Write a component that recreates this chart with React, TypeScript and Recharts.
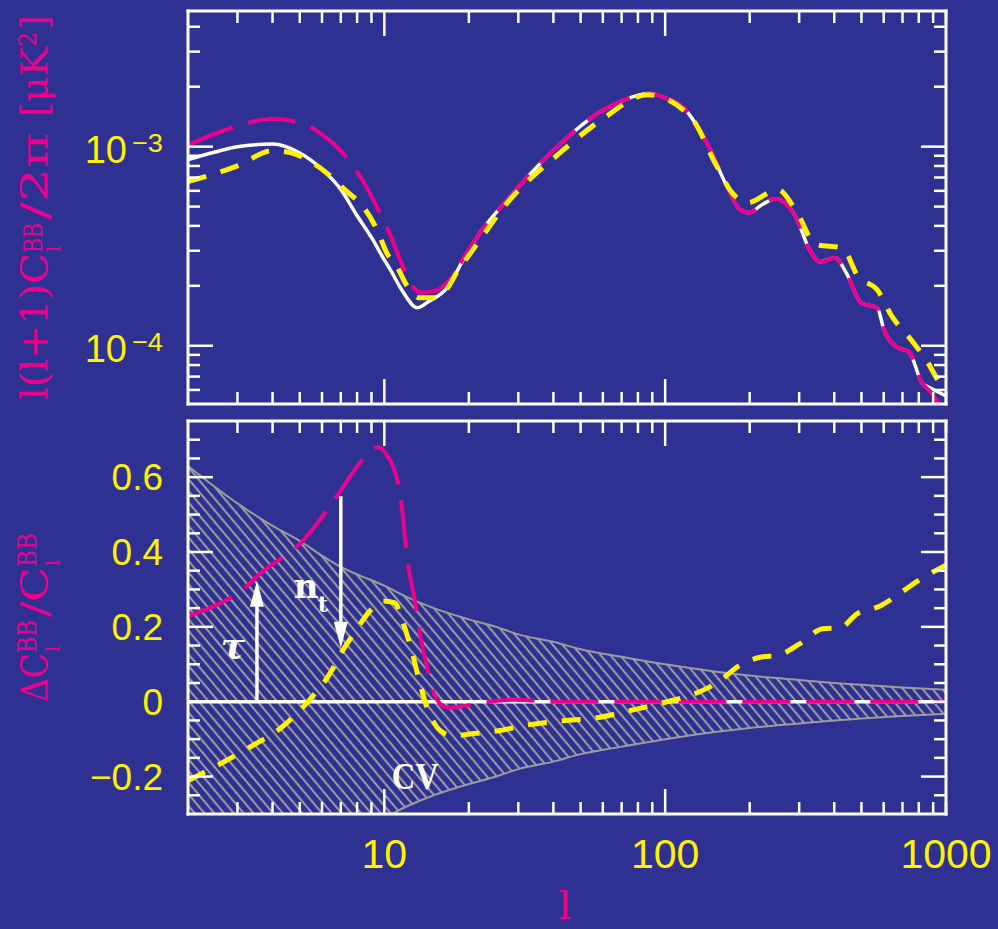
import * as React from "react"
import { ComposedChart, Line, Area, XAxis, YAxis, ReferenceLine, ReferenceDot } from "recharts"

const BG = "#2e3192"
const YELLOW = "#fff200"
const MAGENTA = "#ec008c"
const WHITE = "#ffffff"
const HATCH = "#9c9c9c"
const NUM_FONT = "'Liberation Sans', Arial, sans-serif"
const TITLE_FONT = "'DejaVu Serif', serif"

// multipole axis, shared by both panels
const xDomain: [number, number] = [2, 1000]
const xTicks = [3, 4, 5, 6, 7, 8, 9, 10, 20, 30, 40, 50, 60, 70, 80, 90, 100, 200, 300, 400, 500, 600, 700, 800, 900, 1000]
const xLabels = [10, 100, 1000]

// upper panel: l(l+1)C_l^BB / 2pi
const powerDomain: [number, number] = [5.1e-5, 4.8e-3]
const powerTicks = [6e-5, 7e-5, 8e-5, 9e-5, 1e-4, 2e-4, 3e-4, 4e-4, 5e-4, 6e-4, 7e-4, 8e-4, 9e-4, 1e-3, 2e-3, 3e-3, 4e-3]
const powerLabels = [1e-4, 1e-3]

const fiducialEll = [2, 2.5, 3, 4, 5, 6, 7, 8, 9, 10, 10.5, 11.7, 13.1, 14.3, 16.7, 19.7, 21.9, 27.4, 41, 58, 69, 87, 100, 115, 139, 168, 185, 199, 221, 248, 267, 295, 323, 356, 403, 441, 499, 569, 602, 664, 740, 822, 877, 1000]
const fiducialCl = [8.6e-4, 9.4e-4, 1.0e-3, 1.03e-3, 9.3e-4, 7.7e-4, 6.1e-4, 4.5e-4, 3.5e-4, 2.7e-4, 2.41e-4, 1.85e-4, 1.55e-4, 1.66e-4, 1.95e-4, 2.92e-4, 3.68e-4, 5.4e-4, 9.9e-4, 1.48e-3, 1.68e-3, 1.85e-3, 1.76e-3, 1.59e-3, 1.08e-3, 6.1e-4, 4.82e-4, 4.66e-4, 5.11e-4, 5.48e-4, 5.23e-4, 4.3e-4, 3.14e-4, 2.64e-4, 2.77e-4, 2.33e-4, 1.64e-4, 1.55e-4, 1.2e-4, 9.9e-5, 9.3e-5, 6.5e-5, 6.15e-5, 5.6e-5]

const tauEll = [2, 2.9, 4, 5, 5.9, 7.1, 8.2, 9.4, 10.5, 11.4, 12.3, 13.6, 15.4, 17.1, 19.7, 21.9, 27.4, 41, 58, 69, 87, 100, 115, 139, 168, 185, 199, 221, 248, 267, 295, 323, 356, 403, 441, 499, 569, 602, 664, 740, 822, 877, 938, 1000]
const tauCl = [1.02e-3, 1.25e-3, 1.38e-3, 1.32e-3, 1.17e-3, 9.3e-4, 7.1e-4, 5.0e-4, 3.6e-4, 2.7e-4, 2.1e-4, 1.85e-4, 1.9e-4, 2.15e-4, 2.95e-4, 3.68e-4, 5.4e-4, 9.9e-4, 1.48e-3, 1.68e-3, 1.85e-3, 1.76e-3, 1.59e-3, 1.08e-3, 6.1e-4, 4.82e-4, 4.66e-4, 5.11e-4, 5.48e-4, 5.23e-4, 4.3e-4, 3.14e-4, 2.64e-4, 2.77e-4, 2.33e-4, 1.64e-4, 1.55e-4, 1.2e-4, 9.9e-5, 9.3e-5, 6.5e-5, 5.9e-5, 5.2e-5, 4.5e-5]

const tiltEll = [2, 3, 4, 4.62, 5.9, 7.37, 8.4, 9.42, 10.2, 11.1, 12.1, 13.4, 15.4, 18.6, 21.9, 26.5, 42.3, 59.6, 86.9, 122.7, 153, 173, 196, 252, 295, 344, 427, 487, 569, 643, 752, 849, 968, 1000]
const tiltCl = [6.67e-4, 8.0e-4, 9.55e-4, 9.33e-4, 7.84e-4, 5.94e-4, 5.0e-4, 3.83e-4, 2.93e-4, 2.49e-4, 1.98e-4, 1.74e-4, 1.74e-4, 2.47e-4, 3.4e-4, 4.93e-4, 9.33e-4, 1.37e-3, 1.82e-3, 1.42e-3, 7.94e-4, 5.87e-4, 5.23e-4, 6.08e-4, 4.66e-4, 3.22e-4, 3.1e-4, 2.22e-4, 1.91e-4, 1.4e-4, 1.07e-4, 8.5e-5, 6.2e-5, 5.8e-5]

// lower panel: fractional difference and cosmic variance
const ratioDomain: [number, number] = [-0.3, 0.75]
const ratioTicks = [-0.25, -0.2, -0.15, -0.1, -0.05, 0, 0.05, 0.1, 0.15, 0.2, 0.25, 0.3, 0.35, 0.4, 0.45, 0.5, 0.55, 0.6, 0.65, 0.7]
const ratioLabels = [-0.2, 0, 0.2, 0.4, 0.6]

const cvEll = [2, 3, 4, 5, 6, 7, 8, 10, 12, 15, 20, 25, 30, 40, 50, 70, 100, 150, 200, 300, 400, 500, 700, 1000]
const cvHalfWidth = [0.63, 0.53, 0.47, 0.43, 0.39, 0.36, 0.34, 0.31, 0.28, 0.25, 0.22, 0.2, 0.18, 0.16, 0.14, 0.12, 0.1, 0.081, 0.07, 0.058, 0.05, 0.045, 0.038, 0.032]

const zeroEll = [2, 1000]
const zeroRatio = [0, 0]

const tauRatioEll = [2, 3.24, 3.6, 4.4, 5.0, 6.4, 6.9, 7.7, 8.8, 9.5, 10.3, 11.1, 11.5, 12.1, 12.8, 13.6, 14.3, 14.9, 15.8, 16.9, 19.6, 25.8, 28.8, 40, 1000]
const tauRatio = [0.229, 0.309, 0.341, 0.389, 0.421, 0.523, 0.557, 0.611, 0.664, 0.68, 0.655, 0.595, 0.53, 0.376, 0.277, 0.155, 0.083, 0.029, -0.005, -0.016, -0.011, 0.003, 0.005, 0, 0]

const tiltRatioEll = [2, 2.53, 3.4, 4.3, 5.3, 6.4, 7.1, 8.0, 8.9, 9.9, 10.9, 11.7, 12.6, 13.4, 14.2, 14.9, 15.8, 17.6, 20.8, 25.8, 31.2, 43.3, 57, 74.6, 98, 130, 157, 183, 223, 250, 302, 365, 419, 482, 583, 705, 794, 1000]
const tiltRatio = [-0.211, -0.171, -0.117, -0.069, -0.003, 0.075, 0.136, 0.195, 0.243, 0.269, 0.264, 0.208, 0.128, 0.048, -0.016, -0.051, -0.077, -0.091, -0.085, -0.077, -0.064, -0.051, -0.043, -0.024, -0.003, 0.024, 0.056, 0.096, 0.12, 0.123, 0.155, 0.195, 0.197, 0.235, 0.256, 0.296, 0.323, 0.365]

// arrows marking the tau and n_t shifts: [ell, from, to]
const tauArrow = [3.52, 0, 0.323]
const ntArrow = [7.0, 0.549, 0.144]
const cvLabelAt = [12.9, -0.232]

const toPoints = (ell: number[], val: number[]) => ell.map((l, i) => ({ l, v: val[i] }))
const cvRows = cvEll.map((l, i) => ({ l, cv: [-cvHalfWidth[i], cvHalfWidth[i]] }))

const near = (list: number[], v: number) => list.some((t) => Math.abs(t - v) < 1e-9 * Math.max(1, Math.abs(t)) + 1e-9)
const isDecade = (v: number) => Math.abs(Math.log10(v) - Math.round(Math.log10(v))) < 1e-6

const frame = { stroke: WHITE, strokeWidth: 3, strokeLinecap: "square" as const }

type Side = "top" | "bottom" | "left" | "right"

const makeTick =
  (side: Side, isMajor: (v: number) => boolean, label?: (v: number, x: number, y: number) => React.ReactNode) =>
  (props: any) => {
    const { x, y, payload } = props
    const v = payload.value as number
    const len = isMajor(v) ? 25 : 12
    let x2 = x
    let y2 = y
    if (side === "bottom") y2 = y - len
    if (side === "top") y2 = y + len
    if (side === "left") x2 = x + len
    if (side === "right") x2 = x - len
    return (
      <g>
        <line x1={x} y1={y} x2={x2} y2={y2} stroke={WHITE} strokeWidth={2.5} />
        {label ? label(v, x, y) : null}
      </g>
    )
  }

const xMajor = (v: number) => v === 10 || v === 100
const powerMajor = (v: number) => isDecade(v)
const ratioMajor = (v: number) => near(ratioLabels, v)

const xLabel = (v: number, x: number, y: number) =>
  xLabels.includes(v) ? (
    <text x={x} y={y + 54} textAnchor="middle" fill={YELLOW} fontSize={41} fontFamily={NUM_FONT}>
      {v}
    </text>
  ) : null

const powerLabel = (v: number, x: number, y: number) => {
  if (!near(powerLabels, v)) return null
  const exp = Math.round(Math.log10(v))
  return (
    <g fill={YELLOW} fontFamily={NUM_FONT}>
      <text x={x - 61} y={y + 16} textAnchor="end" fontSize={38}>10</text>
      <text x={x - 25} y={y + 5} textAnchor="end" fontSize={26} textLength={31} lengthAdjust="spacingAndGlyphs">{"\u2212" + Math.abs(exp)}</text>
    </g>
  )
}

const ratioLabel = (v: number, x: number, y: number) => {
  if (!near(ratioLabels, v)) return null
  const txt = Math.abs(v) < 1e-9 ? "0" : (v < 0 ? "\u2212" : "") + Math.abs(v).toFixed(1)
  return (
    <text x={x - 25} y={y + 13} textAnchor="end" fill={YELLOW} fontSize={37} fontFamily={NUM_FONT}>
      {txt}
    </text>
  )
}

const arrowShape = (label: (x1: number, y1: number, x2: number, y2: number) => React.ReactNode) => (props: any) => {
  const { x1, y1, x2, y2 } = props
  const dir = y2 > y1 ? 1 : -1
  const headLen = 26
  const headHalf = 7
  const baseY = y2 - dir * headLen
  return (
    <g>
      <line x1={x1} y1={y1} x2={x2} y2={baseY + dir * 4} stroke={WHITE} strokeWidth={3.5} />
      <polygon points={`${x2},${y2} ${x2 - headHalf},${baseY} ${x2 + headHalf},${baseY}`} fill={WHITE} />
      {label(x1, y1, x2, y2)}
    </g>
  )
}

const tauLabel = (x1: number, y1: number) => (
  <text x={x1 - 24} y={y1 - 44} textAnchor="middle" fill={WHITE} fontSize={36} fontWeight="bold" fontStyle="italic" fontFamily={TITLE_FONT}>
    τ
  </text>
)

const ntLabel = (x1: number, y1: number) => (
  <g fill={WHITE} fontWeight="bold" fontFamily={TITLE_FONT}>
    <text x={x1 - 47} y={y1 + 102} fontSize={34}>n</text>
    <text x={x1 - 23} y={y1 + 116} fontSize={22}>t</text>
  </g>
)

const cvShape = (props: any) => (
  <text x={props.cx} y={props.cy} textAnchor="middle" fill={WHITE} fontSize={38} fontWeight="bold" fontFamily="'Liberation Serif', serif" textLength={47} lengthAdjust="spacingAndGlyphs">
    CV
  </text>
)

const lineProps = { type: "monotone" as const, dot: false, activeDot: false, isAnimationActive: false, dataKey: "v" }

function xAxes(labelled: boolean) {
  return [
    <XAxis key="xb" xAxisId="b" type="number" dataKey="l" scale="log" domain={xDomain} allowDataOverflow ticks={xTicks} interval={0} height={1} tickSize={0} tickMargin={0} tickLine={false} axisLine={frame} tick={makeTick("bottom", xMajor, labelled ? xLabel : undefined)} />,
    <XAxis key="xt" xAxisId="t" orientation="top" type="number" dataKey="l" scale="log" domain={xDomain} allowDataOverflow ticks={xTicks} interval={0} height={1} tickSize={0} tickMargin={0} tickLine={false} axisLine={frame} tick={makeTick("top", xMajor)} />,
  ]
}

function PowerPanel() {
  return (
    <ComposedChart width={998} height={412} margin={{ top: 10, right: 51, bottom: 7, left: 187 }}>
      {xAxes(false)}
      <YAxis yAxisId="l" type="number" scale="log" domain={powerDomain} allowDataOverflow ticks={powerTicks} interval={0} width={1} tickSize={0} tickMargin={0} tickLine={false} axisLine={frame} tick={makeTick("left", powerMajor, powerLabel)} />
      <YAxis yAxisId="r" orientation="right" type="number" scale="log" domain={powerDomain} allowDataOverflow ticks={powerTicks} interval={0} width={1} tickSize={0} tickMargin={0} tickLine={false} axisLine={frame} tick={makeTick("right", powerMajor)} />
      <Line {...lineProps} xAxisId="b" yAxisId="l" data={toPoints(fiducialEll, fiducialCl)} stroke={WHITE} strokeWidth={3.5} />
      <Line {...lineProps} xAxisId="b" yAxisId="l" data={toPoints(tauEll, tauCl)} stroke={MAGENTA} strokeWidth={4} strokeDasharray="48 16" />
      <Line {...lineProps} xAxisId="b" yAxisId="l" data={toPoints(tiltEll, tiltCl)} stroke={YELLOW} strokeWidth={5} strokeDasharray="19 15" />
    </ComposedChart>
  )
}

function RatioPanel() {
  return (
    <ComposedChart width={998} height={517} data={cvRows} margin={{ top: 8, right: 51, bottom: 114, left: 187 }}>
      <defs>
        <pattern id="cvHatch" patternUnits="userSpaceOnUse" width={7.5} height={7.5} patternTransform="rotate(-40)">
          <line x1={3.75} y1={0} x2={3.75} y2={7.5} stroke={HATCH} strokeWidth={2} />
        </pattern>
      </defs>
      {xAxes(true)}
      <YAxis yAxisId="l" type="number" domain={ratioDomain} allowDataOverflow ticks={ratioTicks} interval={0} width={1} tickSize={0} tickMargin={0} tickLine={false} axisLine={frame} tick={makeTick("left", ratioMajor, ratioLabel)} />
      <YAxis yAxisId="r" orientation="right" type="number" domain={ratioDomain} allowDataOverflow ticks={ratioTicks} interval={0} width={1} tickSize={0} tickMargin={0} tickLine={false} axisLine={frame} tick={makeTick("right", ratioMajor)} />
      <Area xAxisId="b" yAxisId="l" dataKey="cv" type="monotone" stroke={HATCH} strokeWidth={2} fill="url(#cvHatch)" fillOpacity={1} dot={false} activeDot={false} isAnimationActive={false} />
      <Line {...lineProps} xAxisId="b" yAxisId="l" data={toPoints(zeroEll, zeroRatio)} type="linear" stroke={WHITE} strokeWidth={3.5} />
      <Line {...lineProps} xAxisId="b" yAxisId="l" data={toPoints(tauRatioEll, tauRatio)} stroke={MAGENTA} strokeWidth={4} strokeDasharray="48 16" />
      <Line {...lineProps} xAxisId="b" yAxisId="l" data={toPoints(tiltRatioEll, tiltRatio)} stroke={YELLOW} strokeWidth={5} strokeDasharray="19 15" />
      <ReferenceLine xAxisId="b" yAxisId="l" segment={[{ x: tauArrow[0], y: tauArrow[1] }, { x: tauArrow[0], y: tauArrow[2] }]} shape={arrowShape(tauLabel)} />
      <ReferenceLine xAxisId="b" yAxisId="l" segment={[{ x: ntArrow[0], y: ntArrow[1] }, { x: ntArrow[0], y: ntArrow[2] }]} shape={arrowShape(ntLabel)} />
      <ReferenceDot xAxisId="b" yAxisId="l" x={cvLabelAt[0]} y={cvLabelAt[1]} r={0} shape={cvShape} />
    </ComposedChart>
  )
}

function AxisTitles() {
  return (
    <svg width={998} height={929} style={{ position: "absolute", left: 0, top: 0, pointerEvents: "none" }}>
      <g fill={MAGENTA} fontFamily={TITLE_FONT} transform="rotate(-90)">
        <text x={-400} y={47} fontSize={38} textLength={147} lengthAdjust="spacingAndGlyphs">l(l+1)C</text>
        <text x={-253} y={42} fontSize={26} textLength={30} lengthAdjust="spacingAndGlyphs">BB</text>
        <text x={-252} y={60} fontSize={19}>l</text>
        <text x={-220} y={47} fontSize={38} textLength={87} lengthAdjust="spacingAndGlyphs">/2π</text>
        <text x={-117} y={47} fontSize={38} textLength={70} lengthAdjust="spacingAndGlyphs">[μK</text>
        <text x={-47} y={36} fontSize={24}>2</text>
        <text x={-30} y={47} fontSize={38}>]</text>

        <text x={-702} y={47} fontSize={38} textLength={49} lengthAdjust="spacingAndGlyphs">ΔC</text>
        <text x={-653} y={36} fontSize={26} textLength={33} lengthAdjust="spacingAndGlyphs">BB</text>
        <text x={-652} y={59} fontSize={19}>l</text>
        <text x={-617} y={47} fontSize={38} textLength={50} lengthAdjust="spacingAndGlyphs">/C</text>
        <text x={-567} y={36} fontSize={26} textLength={34} lengthAdjust="spacingAndGlyphs">BB</text>
        <text x={-566} y={59} fontSize={19}>l</text>
      </g>
      <text x={565} y={919} textAnchor="middle" fill={MAGENTA} fontSize={40} fontFamily={TITLE_FONT}>l</text>
    </svg>
  )
}

export default function App() {
  return (
    <div style={{ position: "absolute", left: 0, top: 0, width: 998, height: 929, background: BG, overflow: "hidden" }}>
      <div style={{ position: "absolute", left: 0, top: 0 }}>
        <PowerPanel />
      </div>
      <div style={{ position: "absolute", left: 0, top: 412 }}>
        <RatioPanel />
      </div>
      <AxisTitles />
    </div>
  )
}
